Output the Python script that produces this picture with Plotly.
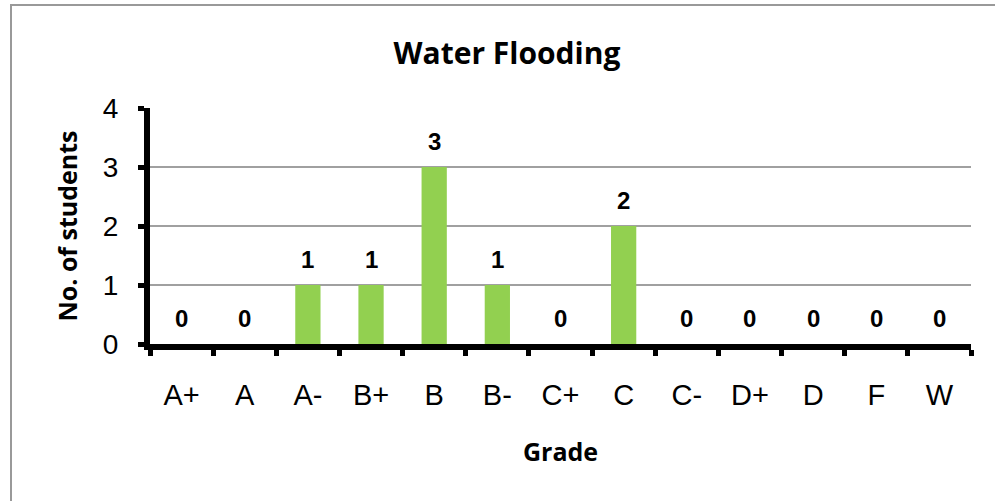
import plotly.graph_objects as go

grades = ["A+", "A", "A-", "B+", "B", "B-", "C+", "C", "C-", "D+", "D", "F", "W"]
students = [0, 0, 1, 1, 3, 1, 0, 2, 0, 0, 0, 0, 0]

L, R, T, B = 150, 24, 108, 157
W, H = 995, 501
pw = W - L - R
ph = H - T - B

fig = go.Figure()
fig.add_trace(go.Bar(x=grades, y=students, marker=dict(color="#92D050", line=dict(width=0)),
                     hoverinfo="x+y"))

for g, v in zip(grades, students):
    fig.add_annotation(x=g, y=v, text=str(v), showarrow=False, yanchor="middle", yshift=26,
                       font=dict(family="Liberation Sans, Arial", size=24, color="black", weight="bold"))

# outer chart border
fig.add_shape(type="rect", xref="paper", yref="paper",
              x0=(11 - L) / pw, x1=(1010 - L) / pw, y0=(H - B - 515) / ph, y1=(H - B - 5) / ph,
              line=dict(color="#999999", width=2), fillcolor="rgba(0,0,0,0)", layer="below")

fig.update_layout(
    width=W, height=H,
    margin=dict(l=L, r=R, t=T, b=B),
    plot_bgcolor="white", paper_bgcolor="white",
    bargap=0.6, showlegend=False,
    title=dict(text="<b>Water Flooding</b>", x=507 / W, xref="container", xanchor="center",
               y=1 - 53 / H, yref="container", yanchor="middle",
               font=dict(family="Open Sans, sans-serif", size=30, color="black")),
    font=dict(family="Liberation Sans, Arial", color="black"),
)
fig.update_xaxes(
    showline=True, linecolor="black", linewidth=6,
    ticks="outside", tickson="boundaries", ticklen=6, tickwidth=5, tickcolor="black",
    tickfont=dict(size=29, family="Liberation Sans, Arial"), ticklabelstandoff=20,
    title=dict(text="<b>Grade</b>", font=dict(family="Open Sans, sans-serif", size=25), standoff=36),
    showgrid=False,
)
fig.update_yaxes(
    range=[0, 4], dtick=1, showline=True, linecolor="black", linewidth=6,
    ticks="outside", ticklen=6, tickwidth=5, tickcolor="black",
    tickfont=dict(size=28, family="Liberation Sans, Arial"), ticklabelstandoff=14,
    showgrid=True, gridcolor="#a0a0a0", gridwidth=1.5, zeroline=False,
    title=dict(text="<b>No. of students</b>", font=dict(family="Open Sans, sans-serif", size=25), standoff=20),
)

fig.write_html("out.html", config={"displayModeBar": False},
               post_script="document.body.style.margin='0px';document.body.style.overflow='hidden';")
